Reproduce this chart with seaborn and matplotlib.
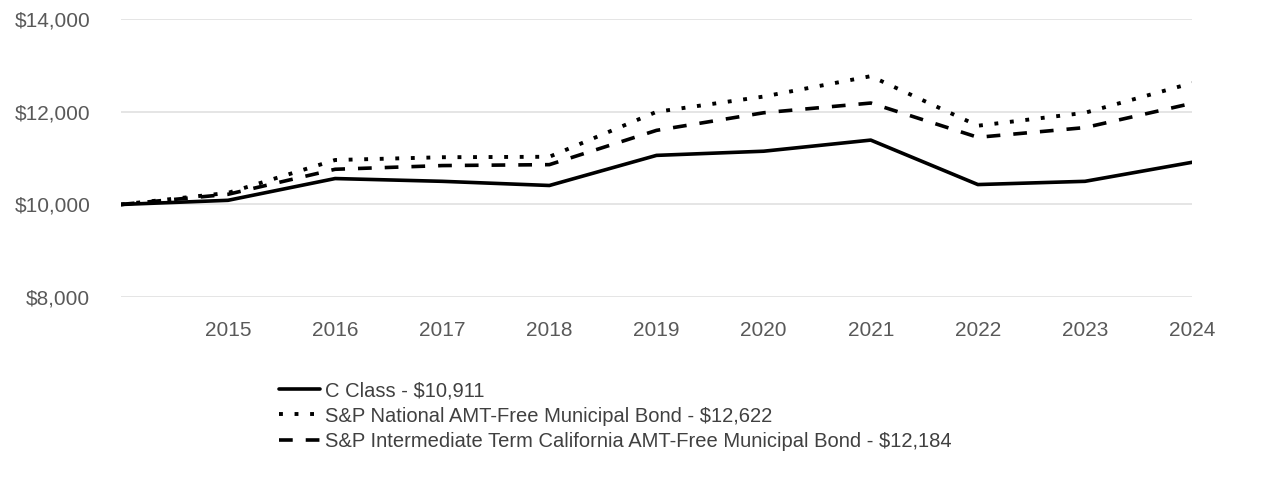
import matplotlib
matplotlib.use("Agg")
import matplotlib.pyplot as plt
import seaborn as sns
import pandas as pd
from matplotlib.ticker import FuncFormatter

years = [2014, 2015, 2016, 2017, 2018, 2019, 2020, 2021, 2022, 2023, 2024]
c_class = [10000, 10090, 10560, 10500, 10410, 11060, 11150, 11390, 10430, 10500, 10911]
national = [10000, 10250, 10960, 11020, 11030, 12000, 12330, 12770, 11700, 11980, 12622]
california = [10000, 10220, 10760, 10840, 10860, 11600, 11980, 12190, 11450, 11660, 12184]
labels = [
    "C Class - $10,911",
    "S&P National AMT-Free Municipal Bond - $12,622",
    "S&P Intermediate Term California AMT-Free Municipal Bond - $12,184",
]
y_ticks = [8000, 10000, 12000, 14000]
x_ticks = [2015, 2016, 2017, 2018, 2019, 2020, 2021, 2022, 2023, 2024]

sns.set_theme(style="white")
plt.rcParams["font.family"] = ["Liberation Sans Narrow", "Liberation Sans", "DejaVu Sans"]

fig = plt.figure(figsize=(12.86, 4.8), dpi=100)
ax = fig.add_axes([0.094, 0.381, 0.833, 0.579])

styles = ["-", (0, (1, 3.0)), (0, (3.8, 3.6))]
widths = [2.6, 2.8, 2.6]
for vals, lab, ls, lw in zip([c_class, national, california], labels, styles, widths):
    df = pd.DataFrame({"year": years, "value": vals})
    sns.lineplot(data=df, x="year", y="value", ax=ax, color="black",
                 linestyle=ls, linewidth=lw, label=lab)

ax.set_xlim(2014, 2024)
ax.set_ylim(8000, 14000)
ax.set_yticks(y_ticks)
ax.set_xticks(x_ticks)
ax.yaxis.set_major_formatter(FuncFormatter(lambda v, p: f"${v:,.0f}"))
ax.grid(axis="y", color="#e0e0e0", linewidth=1.2)
ax.grid(axis="x", visible=False)
for s in ax.spines.values():
    s.set_visible(False)
ax.tick_params(axis="both", colors="#595959", labelsize=15, length=0)
ax.tick_params(axis="y", pad=22)
ax.tick_params(axis="x", pad=17)
ax.set_xlabel("")
ax.set_ylabel("")

handles, labs = ax.get_legend_handles_labels()
ax.get_legend().remove()
fig.legend(handles, labs, loc="upper left", bbox_to_anchor=(0.211, 0.222),
           frameon=False, fontsize=14.5, handlelength=2.0, labelspacing=0.3,
           handletextpad=0.25, labelcolor="#404040", borderaxespad=0)

fig.savefig("out.png", dpi=100)
